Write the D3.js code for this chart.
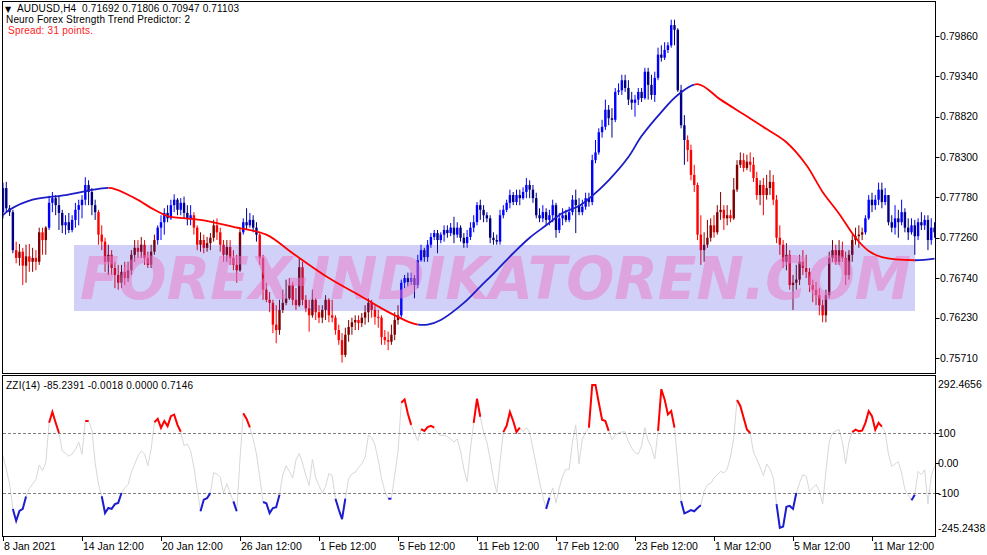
<!DOCTYPE html>
<html><head><meta charset="utf-8">
<script src="https://cdn.jsdelivr.net/npm/d3@7"></script>
<style>
body{margin:0;background:#fff;}
svg{display:block;font-family:"Liberation Sans",Arial,sans-serif;}
</style>
</head><body>
<svg id="chart" width="987" height="555"></svg>
<script>
// ---------- DATA ----------
const symbolHeader = "AUDUSD,H4  0.71692 0.71806 0.70947 0.71103";
const indicatorHeader = "Neuro Forex Strength Trend Predictor: 2";
const spreadText = "Spread: 31 points.";
const zziHeader = "ZZI(14) -85.2391 -0.0018 0.0000 0.7146";
const watermark = "FOREX-INDIKATOREN.COM";

const open = [0.7759,0.7790,0.7764,0.7759,0.7710,0.7700,0.7708,0.7690,0.7702,0.7695,
0.7700,0.7695,0.7733,0.7723,0.7739,0.7771,0.7777,0.7768,0.7758,0.7742,
0.7746,0.7736,0.7749,0.7762,0.7768,0.7775,0.7794,0.7785,0.7768,0.7759,
0.7730,0.7721,0.7695,0.7704,0.7687,0.7678,0.7668,0.7682,0.7674,0.7684,
0.7704,0.7713,0.7708,0.7717,0.7700,0.7691,0.7708,0.7723,0.7739,0.7746,
0.7758,0.7751,0.7768,0.7775,0.7762,0.7771,0.7758,0.7751,0.7755,0.7739,
0.7717,0.7723,0.7713,0.7719,0.7726,0.7742,0.7733,0.7717,0.7704,0.7714,
0.7700,0.7691,0.7684,0.7733,0.7746,0.7742,0.7749,0.7739,0.7730,0.7700,
0.7659,0.7646,0.7642,0.7614,0.7607,0.7633,0.7642,0.7648,0.7665,0.7646,
0.7639,0.7688,0.7646,0.7635,0.7626,0.7646,0.7630,0.7623,0.7633,0.7646,
0.7626,0.7623,0.7607,0.7594,0.7575,0.7601,0.7611,0.7617,0.7620,0.7616,
0.7623,0.7630,0.7642,0.7633,0.7624,0.7623,0.7598,0.7594,0.7592,0.7601,
0.7620,0.7626,0.7668,0.7674,0.7669,0.7674,0.7665,0.7697,0.7710,0.7701,
0.7717,0.7727,0.7732,0.7723,0.7730,0.7736,0.7732,0.7739,0.7730,0.7739,
0.7726,0.7719,0.7727,0.7739,0.7746,0.7768,0.7762,0.7755,0.7751,0.7726,
0.7723,0.7721,0.7755,0.7762,0.7771,0.7781,0.7772,0.7781,0.7777,0.7785,
0.7794,0.7788,0.7777,0.7755,0.7751,0.7759,0.7749,0.7755,0.7768,0.7736,
0.7751,0.7755,0.7749,0.7759,0.7775,0.7768,0.7759,0.7766,0.7777,0.7772,
0.7826,0.7836,0.7862,0.7869,0.7891,0.7880,0.7878,0.7914,0.7916,0.7929,
0.7919,0.7904,0.7900,0.7904,0.7914,0.7906,0.7940,0.7923,0.7910,0.7932,
0.7962,0.7958,0.7968,0.7974,0.8000,0.7994,0.7916,0.7871,0.7852,0.7839,
0.7807,0.7794,0.7730,0.7710,0.7717,0.7726,0.7742,0.7733,0.7759,0.7762,
0.7751,0.7755,0.7751,0.7788,0.7820,0.7826,0.7816,0.7824,0.7820,0.7803,
0.7781,0.7794,0.7781,0.7790,0.7798,0.7775,0.7726,0.7717,0.7695,0.7704,
0.7665,0.7668,0.7672,0.7695,0.7687,0.7682,0.7665,0.7659,0.7652,0.7639,
0.7626,0.7652,0.7700,0.7710,0.7695,0.7710,0.7700,0.7678,0.7704,0.7723,
0.7728,0.7730,0.7733,0.7751,0.7775,0.7768,0.7775,0.7788,0.7772,0.7781,
0.7746,0.7739,0.7751,0.7746,0.7759,0.7739,0.7733,0.7742,0.7728,0.7746,
0.7742,0.7749,0.7723,0.7739];

const close = [0.7790,0.7764,0.7759,0.7710,0.7700,0.7708,0.7690,0.7702,0.7695,0.7700,
0.7695,0.7733,0.7723,0.7739,0.7771,0.7777,0.7768,0.7758,0.7742,0.7746,
0.7736,0.7749,0.7762,0.7768,0.7775,0.7794,0.7785,0.7768,0.7759,0.7730,
0.7721,0.7695,0.7704,0.7687,0.7678,0.7668,0.7682,0.7674,0.7684,0.7704,
0.7713,0.7708,0.7717,0.7700,0.7691,0.7708,0.7723,0.7739,0.7746,0.7758,
0.7751,0.7768,0.7775,0.7762,0.7771,0.7758,0.7751,0.7755,0.7739,0.7717,
0.7723,0.7713,0.7719,0.7726,0.7742,0.7733,0.7717,0.7704,0.7714,0.7700,
0.7691,0.7684,0.7733,0.7746,0.7742,0.7749,0.7739,0.7730,0.7700,0.7659,
0.7646,0.7642,0.7614,0.7607,0.7633,0.7642,0.7648,0.7665,0.7646,0.7639,
0.7688,0.7646,0.7635,0.7626,0.7646,0.7630,0.7623,0.7633,0.7646,0.7626,
0.7623,0.7607,0.7594,0.7575,0.7601,0.7611,0.7617,0.7620,0.7616,0.7623,
0.7630,0.7642,0.7633,0.7624,0.7623,0.7598,0.7594,0.7592,0.7601,0.7620,
0.7626,0.7668,0.7674,0.7669,0.7674,0.7665,0.7697,0.7710,0.7701,0.7717,
0.7727,0.7732,0.7723,0.7730,0.7736,0.7732,0.7739,0.7730,0.7739,0.7726,
0.7719,0.7727,0.7739,0.7746,0.7768,0.7762,0.7755,0.7751,0.7726,0.7723,
0.7721,0.7755,0.7762,0.7771,0.7781,0.7772,0.7781,0.7777,0.7785,0.7794,
0.7788,0.7777,0.7755,0.7751,0.7759,0.7749,0.7755,0.7768,0.7736,0.7751,
0.7755,0.7749,0.7759,0.7775,0.7768,0.7759,0.7766,0.7777,0.7772,0.7826,
0.7836,0.7862,0.7869,0.7891,0.7880,0.7878,0.7914,0.7916,0.7929,0.7919,
0.7904,0.7900,0.7904,0.7914,0.7906,0.7940,0.7923,0.7910,0.7932,0.7962,
0.7958,0.7968,0.7974,0.8000,0.7994,0.7916,0.7871,0.7852,0.7839,0.7807,
0.7794,0.7730,0.7710,0.7717,0.7726,0.7742,0.7733,0.7759,0.7762,0.7751,
0.7755,0.7751,0.7788,0.7820,0.7826,0.7816,0.7824,0.7820,0.7803,0.7781,
0.7794,0.7781,0.7790,0.7798,0.7775,0.7726,0.7717,0.7695,0.7704,0.7665,
0.7668,0.7672,0.7695,0.7687,0.7682,0.7665,0.7659,0.7652,0.7639,0.7626,
0.7652,0.7700,0.7710,0.7695,0.7710,0.7700,0.7678,0.7704,0.7723,0.7728,
0.7730,0.7733,0.7751,0.7775,0.7768,0.7775,0.7788,0.7772,0.7781,0.7746,
0.7739,0.7751,0.7746,0.7759,0.7739,0.7733,0.7742,0.7728,0.7746,0.7742,
0.7749,0.7723,0.7739,0.7733];

const high = [0.7797,0.7798,0.7768,0.7762,0.7721,0.7718,0.7713,0.7717,0.7718,0.7713,
0.7710,0.7739,0.7739,0.7741,0.7780,0.7785,0.7781,0.7779,0.7762,0.7755,
0.7758,0.7755,0.7771,0.7775,0.7781,0.7804,0.7800,0.7790,0.7775,0.7762,
0.7742,0.7726,0.7717,0.7710,0.7695,0.7691,0.7691,0.7695,0.7695,0.7710,
0.7723,0.7723,0.7727,0.7723,0.7708,0.7717,0.7730,0.7742,0.7755,0.7764,
0.7768,0.7775,0.7782,0.7777,0.7777,0.7779,0.7768,0.7768,0.7759,0.7742,
0.7733,0.7730,0.7727,0.7732,0.7749,0.7751,0.7739,0.7723,0.7723,0.7723,
0.7710,0.7704,0.7739,0.7751,0.7764,0.7758,0.7755,0.7746,0.7732,0.7704,
0.7668,0.7656,0.7646,0.7639,0.7646,0.7659,0.7672,0.7674,0.7669,0.7661,
0.7700,0.7695,0.7652,0.7646,0.7659,0.7648,0.7639,0.7639,0.7652,0.7648,
0.7646,0.7626,0.7614,0.7603,0.7610,0.7620,0.7623,0.7626,0.7626,0.7629,
0.7639,0.7648,0.7646,0.7639,0.7633,0.7626,0.7607,0.7605,0.7614,0.7630,
0.7639,0.7672,0.7678,0.7681,0.7681,0.7678,0.7704,0.7717,0.7713,0.7723,
0.7732,0.7736,0.7736,0.7733,0.7742,0.7742,0.7745,0.7753,0.7746,0.7742,
0.7732,0.7736,0.7746,0.7755,0.7772,0.7775,0.7768,0.7759,0.7755,0.7733,
0.7730,0.7762,0.7768,0.7775,0.7788,0.7785,0.7788,0.7788,0.7791,0.7803,
0.7800,0.7794,0.7784,0.7764,0.7768,0.7764,0.7762,0.7775,0.7771,0.7758,
0.7764,0.7762,0.7766,0.7781,0.7788,0.7777,0.7775,0.7784,0.7784,0.7833,
0.7852,0.7867,0.7878,0.7904,0.7897,0.7893,0.7919,0.7925,0.7936,0.7936,
0.7929,0.7914,0.7910,0.7919,0.7919,0.7945,0.7945,0.7936,0.7940,0.7971,
0.7974,0.7978,0.7978,0.8007,0.8007,0.7996,0.7923,0.7884,0.7858,0.7846,
0.7820,0.7797,0.7755,0.7733,0.7749,0.7751,0.7755,0.7768,0.7785,0.7768,
0.7768,0.7762,0.7803,0.7826,0.7836,0.7835,0.7833,0.7836,0.7830,0.7811,
0.7800,0.7803,0.7807,0.7813,0.7807,0.7781,0.7742,0.7723,0.7719,0.7710,
0.7678,0.7691,0.7704,0.7710,0.7704,0.7687,0.7672,0.7669,0.7661,0.7646,
0.7659,0.7708,0.7723,0.7717,0.7723,0.7721,0.7708,0.7710,0.7730,0.7739,
0.7742,0.7739,0.7755,0.7781,0.7784,0.7781,0.7797,0.7797,0.7790,0.7781,
0.7755,0.7768,0.7762,0.7775,0.7764,0.7751,0.7751,0.7749,0.7751,0.7759,
0.7755,0.7755,0.7751,0.7746];

const low = [0.7751,0.7758,0.7754,0.7706,0.7693,0.7690,0.7665,0.7668,0.7682,0.7682,
0.7684,0.7691,0.7704,0.7704,0.7736,0.7759,0.7755,0.7736,0.7732,0.7730,
0.7732,0.7733,0.7739,0.7742,0.7751,0.7768,0.7768,0.7755,0.7749,0.7717,
0.7710,0.7682,0.7678,0.7678,0.7661,0.7659,0.7661,0.7665,0.7669,0.7678,
0.7695,0.7700,0.7700,0.7691,0.7687,0.7687,0.7704,0.7717,0.7723,0.7730,
0.7746,0.7749,0.7759,0.7755,0.7755,0.7751,0.7742,0.7742,0.7730,0.7710,
0.7708,0.7706,0.7708,0.7710,0.7721,0.7723,0.7708,0.7695,0.7695,0.7691,
0.7684,0.7668,0.7682,0.7730,0.7736,0.7739,0.7733,0.7721,0.7691,0.7646,
0.7643,0.7630,0.7603,0.7590,0.7601,0.7629,0.7639,0.7646,0.7639,0.7633,
0.7637,0.7639,0.7630,0.7605,0.7623,0.7620,0.7616,0.7616,0.7620,0.7617,
0.7617,0.7601,0.7588,0.7565,0.7572,0.7592,0.7601,0.7607,0.7607,0.7611,
0.7614,0.7617,0.7623,0.7614,0.7610,0.7588,0.7588,0.7581,0.7588,0.7594,
0.7614,0.7623,0.7661,0.7663,0.7665,0.7648,0.7661,0.7695,0.7695,0.7695,
0.7713,0.7723,0.7706,0.7719,0.7721,0.7726,0.7728,0.7719,0.7726,0.7721,
0.7713,0.7713,0.7723,0.7733,0.7742,0.7749,0.7746,0.7746,0.7719,0.7717,
0.7717,0.7717,0.7751,0.7759,0.7764,0.7768,0.7768,0.7768,0.7775,0.7777,
0.7777,0.7771,0.7751,0.7746,0.7746,0.7742,0.7742,0.7746,0.7726,0.7732,
0.7742,0.7746,0.7746,0.7755,0.7732,0.7755,0.7755,0.7762,0.7766,0.7768,
0.7822,0.7833,0.7855,0.7865,0.7871,0.7855,0.7875,0.7910,0.7910,0.7914,
0.7897,0.7891,0.7882,0.7897,0.7901,0.7904,0.7904,0.7904,0.7901,0.7929,
0.7953,0.7955,0.7964,0.7971,0.7974,0.7914,0.7867,0.7820,0.7824,0.7800,
0.7785,0.7723,0.7691,0.7695,0.7713,0.7721,0.7726,0.7730,0.7749,0.7736,
0.7742,0.7746,0.7749,0.7785,0.7816,0.7811,0.7813,0.7811,0.7798,0.7775,
0.7768,0.7755,0.7775,0.7781,0.7768,0.7719,0.7704,0.7687,0.7684,0.7659,
0.7633,0.7659,0.7665,0.7678,0.7674,0.7656,0.7643,0.7639,0.7626,0.7617,
0.7617,0.7648,0.7695,0.7691,0.7691,0.7695,0.7665,0.7672,0.7695,0.7717,
0.7713,0.7723,0.7730,0.7749,0.7759,0.7762,0.7768,0.7764,0.7768,0.7742,
0.7733,0.7730,0.7726,0.7742,0.7733,0.7723,0.7730,0.7704,0.7723,0.7736,
0.7736,0.7710,0.7717,0.7726];

// candle trend state (bar ranges): up = blue family, down = red family
const trendRanges = [[0,3,"up"],[4,13,"down"],[14,28,"up"],[29,46,"down"],[47,57,"up"],
  [58,72,"down"],[73,77,"up"],[78,120,"down"],[121,207,"up"],[208,261,"down"],[262,283,"up"]];

// trend predictor line, read at these bars
const maBars = [0,2,9,19,29,33,40,46,50,60,70,80,88,99,109,115,120,125,129,133,
  140,145,150,155,160,165,170,175,179,184,190,194,200,205,211,218,225,232,238,244,
  249,254,259,263,267,277,283];
const maValues = [0.7755,0.7762,0.7775,0.7781,0.7789,0.7790,0.7777,0.7762,0.7754,0.7749,
  0.7740,0.7730,0.7706,0.7674,0.7650,0.7635,0.7624,0.7615,0.7614,0.7620,
  0.7642,0.7663,0.7684,0.7706,0.7726,0.7742,0.7758,0.7767,0.7780,0.7800,
  0.7830,0.7857,0.7888,0.7910,0.7924,0.7904,0.7885,0.7866,0.7849,0.7820,
  0.7785,0.7757,0.7726,0.7709,0.7701,0.7697,0.7699];
const maRanges = [[0,32,"up"],[32,126,"down"],[126,210,"up"],[210,277,"down"],[277,283,"up"]];

const zzi = [23,-20,-70,-153,-193,-160,-153,-112,-85,-70,
-55,-7,-26,1,134,170,134,100,40,32,
23,30,45,70,29,140,140,110,0,-70,
-111,-167,-150,-153,-137,-133,-100,-83,-72,-30,
-4,23,40,30,-9,46,136,147,117,140,
123,156,161,127,104,58,63,41,-14,-89,
-161,-122,-117,-100,-32,-37,-48,-100,-69,-100,
-128,-161,13,166,147,119,80,30,-48,-130,
-134,-167,-150,-147,-106,-39,-9,-28,-50,10,
32,0,-42,-75,12,-50,-75,-100,-78,-35,
-42,-119,-155,-187,-119,-52,-36,-31,-15,-3,
19,93,85,60,10,-52,-94,-119,-119,-40,
38,201,212,164,127,100,74,113,107,120,
124,118,100,91,93,88,80,70,80,40,
-20,-63,47,134,214,154,104,70,13,-52,
-98,2,103,124,170,140,103,118,104,118,
103,48,-7,-63,-111,-153,-116,-83,-133,-83,
-44,-20,-22,70,127,-3,80,103,118,260,
260,201,144,140,107,78,93,100,104,104,
72,50,35,30,57,118,74,52,13,107,
246,212,162,173,118,-2,-127,-168,-163,-157,
-161,-150,-141,-94,-72,-68,-50,-39,-28,-33,
-20,20,83,210,190,151,112,100,36,13,
-14,-42,-3,-20,-48,-137,-216,-212,-146,-143,
-153,-100,-66,-39,-44,-94,-83,-72,-94,-137,
-28,70,100,107,112,70,-3,70,103,111,
106,108,134,173,156,111,134,121,103,30,
-11,-3,4,-33,-89,-106,-124,-106,-28,-39,
-22,-137,-44,-11];
const zziRanges = [[3,7,"blue"],[14,17,"red"],[25,26,"red"],[30,36,"blue"],[46,54,"red"],
  [60,63,"blue"],[70,71,"blue"],[73,75,"red"],[79,84,"blue"],[101,104,"blue"],[117,118,"blue"],
  [121,124,"red"],[127,131,"red"],[143,145,"red"],[152,157,"red"],[165,166,"blue"],
  [178,184,"red"],[199,204,"red"],[206,212,"blue"],[223,227,"red"],[235,241,"blue"],
  [258,267,"red"],[276,277,"blue"]];

const priceTicks = [0.79860,0.79340,0.78820,0.78300,0.77780,0.77260,0.76740,0.76230,0.75710];
const zziLevels = [100,-100];
const zziTicks = [292.4656,100,0,-100,-245.2438];
const zziTickLabels = ["292.4656","100","0.00","-100","-245.2438"];
const timeTickBars = [0,24,48,72,96,120,144,168,192,216,240,264];
const timeTickLabels = ["8 Jan 2021","14 Jan 12:00","20 Jan 12:00","26 Jan 12:00","1 Feb 12:00",
  "5 Feb 12:00","11 Feb 12:00","17 Feb 12:00","23 Feb 12:00","1 Mar 12:00","5 Mar 12:00","11 Mar 12:00"];

// ---------- LAYOUT ----------
const L = 3, R = 935, mainTop = 2, mainBottom = 373, indTop = 376, indBottom = 536;
const svg = d3.select("#chart");
svg.append("rect").attr("width",987).attr("height",555).attr("fill","#fff");

const x = d3.scaleLinear().domain([0,264]).range([3,872]);
const yP = d3.scaleLinear().domain([0.7571,0.7986]).range([358,36]);
const yZ = d3.scaleLinear().domain([-100,100]).range([493,433]);

const defs = svg.append("defs");
defs.append("clipPath").attr("id","mainClip").append("rect")
  .attr("x",L).attr("y",mainTop).attr("width",R-L).attr("height",mainBottom-mainTop);
defs.append("clipPath").attr("id","indClip").append("rect")
  .attr("x",L).attr("y",indTop).attr("width",R-L).attr("height",indBottom-indTop);

const trendOf = i => trendRanges.find(t => i >= t[0] && i <= t[1])[2];
const candleColor = i => {
  const bull = close[i] >= open[i];
  return trendOf(i) === "up" ? (bull ? "#0000ff" : "#000080") : (bull ? "#800000" : "#ff0000");
};

// ---------- MAIN PANEL ----------
const main = svg.append("g").attr("clip-path","url(#mainClip)");
const idx = d3.range(close.length);
const cg = main.append("g");
cg.selectAll("line.wick").data(idx).join("line").attr("class","wick")
  .attr("x1",i=>x(i)).attr("x2",i=>x(i))
  .attr("y1",i=>yP(high[i])).attr("y2",i=>yP(low[i]))
  .attr("stroke",candleColor).attr("stroke-width",1);
cg.selectAll("rect.body").data(idx).join("rect").attr("class","body")
  .attr("x",i=>x(i)-1.2).attr("width",2.4)
  .attr("y",i=>yP(Math.max(open[i],close[i])))
  .attr("height",i=>Math.max(1,Math.abs(yP(open[i])-yP(close[i]))))
  .attr("fill",candleColor);

// watermark
main.append("rect").attr("x",74).attr("y",245).attr("width",841).attr("height",66)
  .attr("fill","rgb(40,40,225)").attr("fill-opacity",0.22);
main.append("text").attr("x",80).attr("y",299)
  .attr("font-family","'DejaVu Sans',sans-serif").attr("font-weight","bold").attr("font-style","italic")
  .attr("font-size",58).attr("textLength",831).attr("lengthAdjust","spacingAndGlyphs")
  .attr("fill","rgb(235,120,200)").attr("fill-opacity",0.5).text(watermark);

// trend predictor line
const maPts = maBars.map((b,k)=>[b,maValues[k]]);
const maLine = d3.line().x(d=>x(d[0])).y(d=>yP(d[1])).curve(d3.curveCatmullRom.alpha(0.5));
maRanges.forEach((r,k)=>{
  const id = "maClip"+k;
  const x0 = k===0 ? L : x(r[0]);
  const x1 = k===maRanges.length-1 ? R : x(r[1]);
  defs.append("clipPath").attr("id",id).append("rect")
    .attr("x",x0).attr("y",mainTop).attr("width",x1-x0).attr("height",mainBottom-mainTop);
  main.append("path").attr("d",maLine(maPts)).attr("clip-path","url(#"+id+")")
    .attr("fill","none").attr("stroke", r[2]==="up" ? "#1c1cc8" : "#ff0000")
    .attr("stroke-width",1.8);
});

// header texts
svg.append("text").attr("x",5).attr("y",12).attr("font-family","'DejaVu Sans',sans-serif")
  .attr("font-size",8).attr("fill","#000").text("▼");
svg.append("text").attr("x",17).attr("y",12).attr("font-size",10).attr("fill","#000")
  .attr("textLength",222).attr("lengthAdjust","spacing").attr("xml:space","preserve").text(symbolHeader);
svg.append("text").attr("x",6).attr("y",23).attr("font-size",10).attr("fill","#000")
  .attr("textLength",184).attr("lengthAdjust","spacing").text(indicatorHeader);
svg.append("text").attr("x",8).attr("y",34).attr("font-size",10).attr("fill","#ff2020")
  .attr("textLength",85).attr("lengthAdjust","spacing").text(spreadText);

// ---------- INDICATOR PANEL ----------
const ind = svg.append("g").attr("clip-path","url(#indClip)");
const zLine = d3.line().x((d,i)=>x(i)).y(d=>yZ(d));
ind.append("path").attr("d",zLine(zzi)).attr("fill","none").attr("stroke","#d8d8d8").attr("stroke-width",1);
ind.selectAll("line.level").data(zziLevels).join("line").attr("class","level")
  .attr("x1",L).attr("x2",R).attr("y1",d=>Math.round(yZ(d))+0.5).attr("y2",d=>Math.round(yZ(d))+0.5)
  .attr("stroke","#808080").attr("stroke-dasharray","3,2").attr("stroke-width",1);
const segLine = d3.line().x(d=>x(d[0])).y(d=>yZ(d[1]));
zziRanges.forEach(r=>{
  const pts = d3.range(r[0], r[1]+1).map(i=>[i, zzi[i]]);
  ind.append("path").attr("d",segLine(pts)).attr("fill","none")
    .attr("stroke", r[2]==="red" ? "#ff0000" : "#1c1cd0").attr("stroke-width",2);
});
svg.append("text").attr("x",6).attr("y",389).attr("font-size",10).attr("fill","#000")
  .attr("textLength",187).attr("lengthAdjust","spacing").text(zziHeader);

// ---------- FRAMES & AXES ----------
svg.append("rect").attr("x",L-0.5).attr("y",mainTop-0.5).attr("width",R-L+1).attr("height",mainBottom-mainTop+1)
  .attr("fill","none").attr("stroke","#000");
svg.append("rect").attr("x",L-0.5).attr("y",indTop-0.5).attr("width",R-L+1).attr("height",indBottom-indTop+1)
  .attr("fill","none").attr("stroke","#000");

const pa = svg.append("g");
pa.selectAll("line").data(priceTicks).join("line")
  .attr("x1",R+0.5).attr("x2",R+4.5).attr("y1",d=>Math.round(yP(d))+0.5).attr("y2",d=>Math.round(yP(d))+0.5)
  .attr("stroke","#000");
pa.selectAll("text").data(priceTicks).join("text")
  .attr("x",940).attr("y",d=>yP(d)).attr("dy","0.35em").attr("font-size",10.5).attr("fill","#000")
  .text(d=>d.toFixed(5));

const za = svg.append("g");
za.selectAll("line").data([100,0,-100]).join("line")
  .attr("x1",R+0.5).attr("x2",R+4.5).attr("y1",d=>Math.round(yZ(d))+0.5).attr("y2",d=>Math.round(yZ(d))+0.5)
  .attr("stroke","#000");
za.selectAll("text").data(zziTicks).join("text")
  .attr("x",938)
  .attr("y",(d,i)=> i===0 ? yZ(d)+9 : (i===zziTicks.length-1 ? yZ(d)-8 : yZ(d)))
  .attr("dy","0.35em").attr("font-size",10.5).attr("fill","#000")
  .text((d,i)=>zziTickLabels[i]);

const ta = svg.append("g");
ta.selectAll("line").data(timeTickBars).join("line")
  .attr("x1",b=>Math.round(x(b))+0.5).attr("x2",b=>Math.round(x(b))+0.5)
  .attr("y1",indBottom).attr("y2",indBottom+5).attr("stroke","#000");
ta.selectAll("text").data(timeTickBars).join("text")
  .attr("x",b=>x(b)+1).attr("y",550).attr("font-size",10.5).attr("fill","#000")
  .text((b,i)=>timeTickLabels[i]);
</script>
</body></html>
